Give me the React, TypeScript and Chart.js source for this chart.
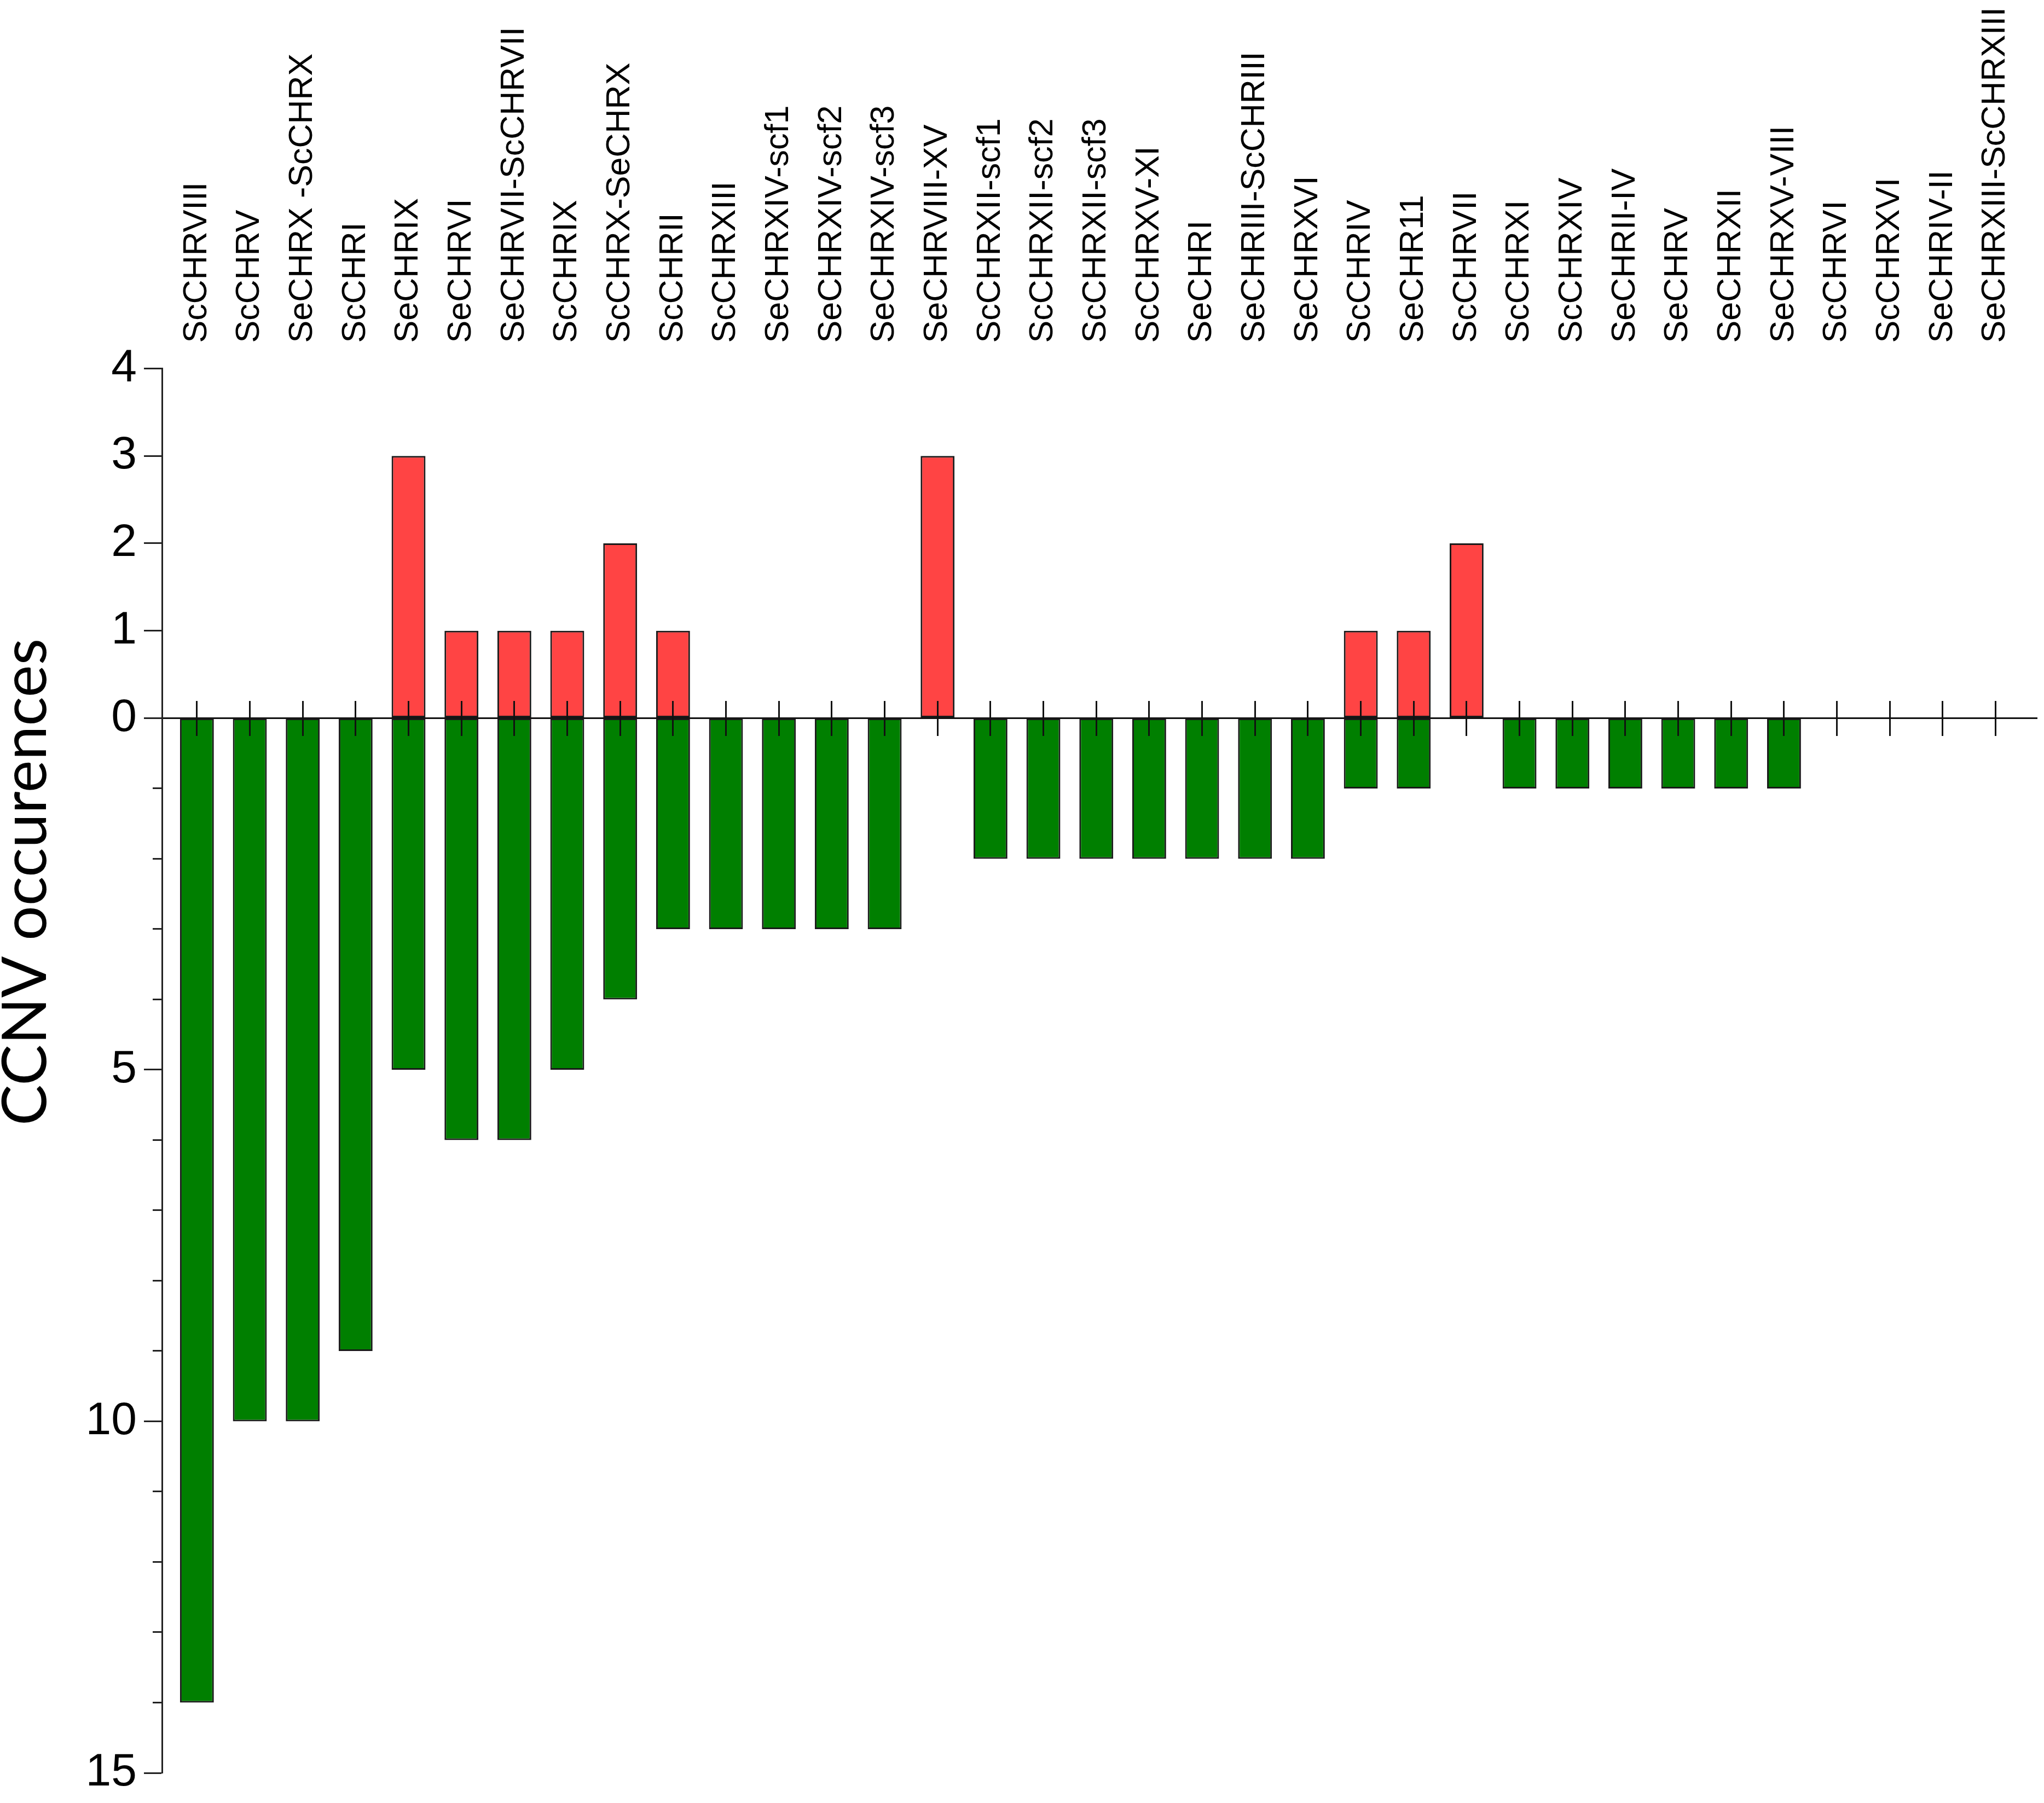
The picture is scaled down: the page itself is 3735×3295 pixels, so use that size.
import React, { useEffect, useRef } from 'react'
import { Chart, registerables } from 'chart.js'

Chart.register(...registerables)

const chromosomes = [
  'ScCHRVIII', 'ScCHRV', 'SeCHRX -ScCHRX', 'ScCHRI', 'SeCHRIX', 'SeCHRVI',
  'SeCHRVII-ScCHRVII', 'ScCHRIX', 'ScCHRX-SeCHRX', 'ScCHRII', 'ScCHRXIII',
  'SeCHRXIV-scf1', 'SeCHRXIV-scf2', 'SeCHRXIV-scf3', 'SeCHRVIII-XV',
  'ScCHRXII-scf1', 'ScCHRXII-scf2', 'ScCHRXII-scf3', 'ScCHRXV-XI', 'SeCHRI',
  'SeCHRIII-ScCHRIII', 'SeCHRXVI', 'ScCHRIV', 'SeCHR11', 'ScCHRVII', 'ScCHRXI',
  'ScCHRXIV', 'SeCHRII-IV', 'SeCHRV', 'SeCHRXII', 'SeCHRXV-VIII', 'ScCHRVI',
  'ScCHRXVI', 'SeCHRIV-II', 'SeCHRXIII-ScCHRXIII',
]

// red bars, above the zero line
const gains = [0, 0, 0, 0, 3, 1, 1, 1, 2, 1, 0, 0, 0, 0, 3, 0, 0, 0, 0, 0, 0, 0, 1, 1, 2, 0, 0, 0, 0, 0, 0, 0, 0, 0, 0]
// green bars, below the zero line
const losses = [14, 10, 10, 9, 5, 6, 6, 5, 4, 3, 3, 3, 3, 3, 0, 2, 2, 2, 2, 2, 2, 2, 1, 1, 0, 1, 1, 1, 1, 1, 1, 0, 0, 0, 0]

const gainMax = 4
const lossMax = 15
const lossLabelled = [5, 10, 15]

const yTitle = 'CCNV occurences'

const sans = "'Liberation Sans', Arial, sans-serif"
const labelSize = 61

// one tick per chromosome
const categoryTicks = (scale: any) => {
  scale.ticks = chromosomes.map((_, i) => ({ value: i }))
}

const App = () => {
  const chartRef = useRef<HTMLCanvasElement>(null)

  useEffect(() => {
    if (!chartRef.current) return
    const ctx = chartRef.current.getContext('2d')
    if (!ctx) return

    const xMin = -0.66
    const xMax = chromosomes.length - 1 + 0.79

    const chart = new Chart(ctx, {
      type: 'bar',
      data: {
        datasets: [
          {
            label: 'Gain',
            data: gains.map((v, i) => ({ x: i, y: v })),
            yAxisID: 'yGain',
            backgroundColor: '#ff4444',
            borderColor: '#1a1a1a',
            borderWidth: 3,
            borderSkipped: false,
          },
          {
            label: 'Loss',
            data: losses.map((v, i) => ({ x: i, y: v })),
            yAxisID: 'yLoss',
            backgroundColor: '#007f00',
            borderColor: '#1a1a1a',
            borderWidth: 3,
            borderSkipped: false,
          },
        ],
      },
      options: {
        animation: false,
        responsive: true,
        maintainAspectRatio: false,
        devicePixelRatio: 1,
        grouped: false,
        categoryPercentage: 1,
        barPercentage: 0.64,
        layout: { autoPadding: false, padding: { left: 0, right: 12, top: -34, bottom: 43 } },
        plugins: {
          legend: { display: false },
          tooltip: { enabled: false },
        },
        scales: {
          x: {
            type: 'linear',
            position: 'top',
            bounds: 'data',
            offset: false,
            min: xMin,
            max: xMax,
            afterBuildTicks: categoryTicks,
            grid: { display: false, drawTicks: false, offset: false },
            border: { display: false },
            ticks: {
              autoSkip: false,
              minRotation: 90,
              maxRotation: 90,
              padding: 47,
              labelOffset: labelSize * 1.2,
              color: '#000',
              font: { family: sans, size: labelSize, lineHeight: 1.2 },
              callback: (value) => chromosomes[Number(value)] ?? '',
            },
          },
          // small tick marks crossing the zero line
          xMarks: {
            type: 'linear',
            axis: 'x',
            position: { yGain: 0.2 },
            bounds: 'data',
            offset: false,
            min: xMin,
            max: xMax,
            afterBuildTicks: categoryTicks,
            border: { display: false },
            grid: {
              display: true,
              offset: false,
              drawOnChartArea: false,
              drawTicks: true,
              tickLength: 64,
              tickColor: '#111',
              tickWidth: 3,
              z: 1,
            },
            ticks: { display: false, autoSkip: false },
          },
          yTitle: {
            type: 'linear',
            position: 'left',
            stack: 'title',
            stackWeight: 1880,
            weight: 4,
            grid: { display: false, drawTicks: false },
            border: { display: false },
            ticks: { display: false },
            title: {
              display: true,
              text: yTitle,
              color: '#000',
              font: { family: "Lato, 'Open Sans', sans-serif", size: 112, lineHeight: 0.8 },
              padding: { top: 3, bottom: 51 },
            },
          },
          ySpacer: {
            type: 'linear',
            position: 'left',
            stack: 'title',
            stackWeight: 691,
            weight: 3,
            display: false,
          },
          yGain: {
            type: 'linear',
            position: 'left',
            stack: 'y',
            stackWeight: gainMax * 160,
            weight: 2,
            min: 0,
            max: gainMax,
            border: { display: true, color: '#222', width: 3 },
            grid: {
              drawOnChartArea: true,
              color: (c) => (c.tick && c.tick.value === 0 ? '#111' : 'rgba(0,0,0,0)'),
              lineWidth: 3,
              tickColor: '#222',
              tickWidth: 3,
              tickLength: 33,
            },
            ticks: {
              stepSize: 1,
              padding: 13,
              color: '#000',
              font: { family: sans, size: 84, lineHeight: 1 },
            },
          },
          yLoss: {
            type: 'linear',
            position: 'left',
            stack: 'y',
            stackWeight: lossMax * 128.7,
            weight: 1,
            min: 0,
            max: lossMax,
            reverse: true,
            border: { display: true, color: '#222', width: 3 },
            grid: {
              drawOnChartArea: false,
              tickColor: '#222',
              tickWidth: 3,
              tickLength: 33,
              tickBorderDash: (c) => (c.tick && c.tick.value % 5 === 0 ? [] : [0, 16, 17, 100]),
            },
            ticks: {
              stepSize: 1,
              padding: 13,
              autoSkip: false,
              color: '#000',
              font: { family: sans, size: 84, lineHeight: 1 },
              callback: (value) => (lossLabelled.includes(Number(value)) ? String(value) : ''),
            },
          },
        },
      },
    })

    return () => {
      chart.destroy()
    }
  }, [])

  return (
    <div style={{ position: 'absolute', left: 0, top: 0, width: 3735, height: 3295, background: '#fff' }}>
      <canvas ref={chartRef} />
    </div>
  )
}

export default App
